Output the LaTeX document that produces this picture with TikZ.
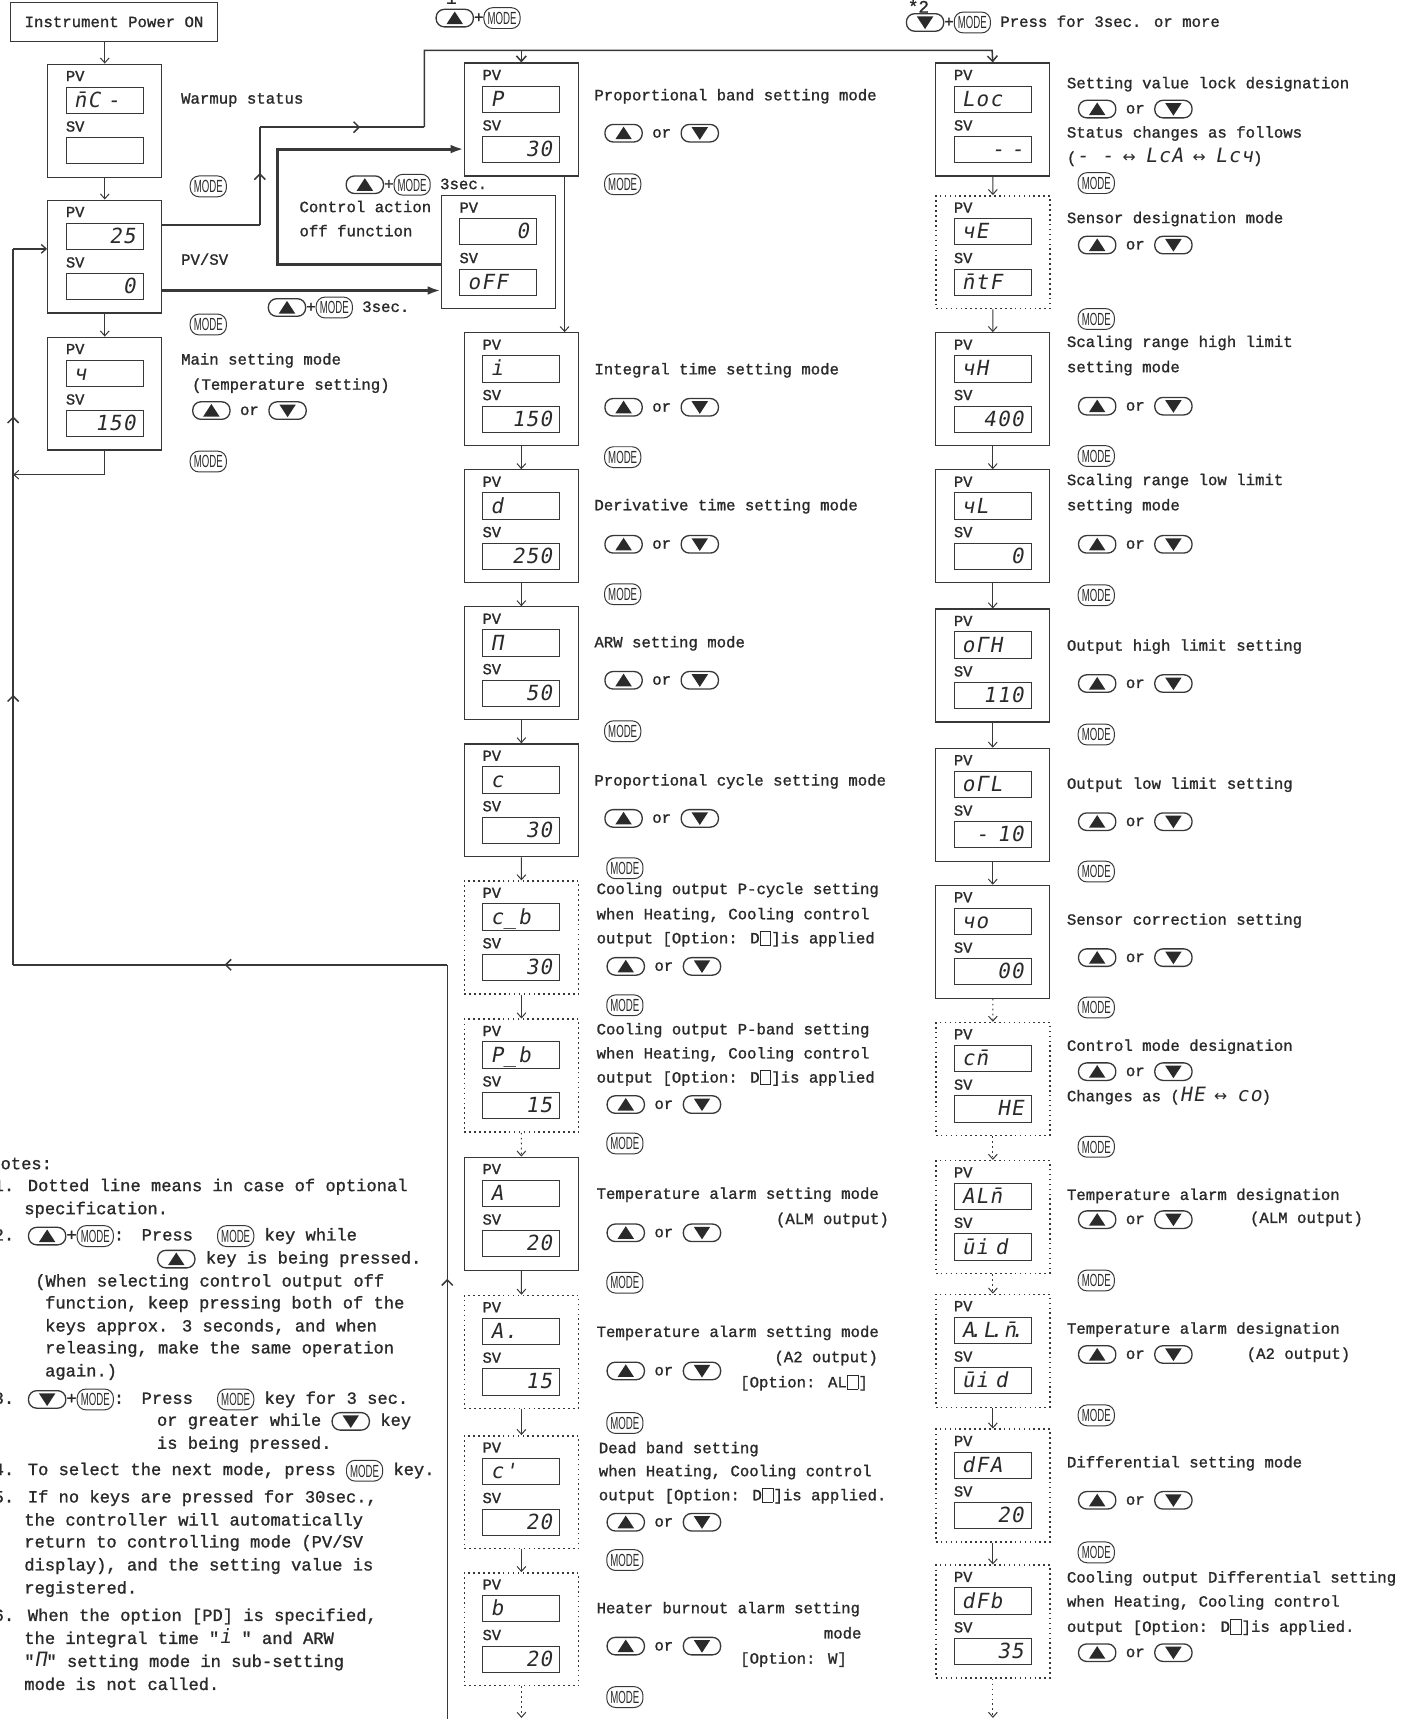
\documentclass[tikz,border=0pt]{standalone}
\usepackage{fontspec}
\setmainfont{Liberation Mono}[FakeBold=1.2]
\newfontfamily\qf{Liberation Mono}[Ligatures=TeXOff,FakeBold=1.2]
\newfontfamily\segf{DejaVu Sans Mono}[LetterSpace=6,FakeSlant=0.18]
\newfontfamily\symf{DejaVu Sans}
\newfontfamily\modef{Liberation Sans}[FakeStretch=0.55]
\usetikzlibrary{arrows.meta,decorations.markings,calc}
\definecolor{ink}{HTML}{2A2A2A}
\definecolor{lin}{HTML}{383838}
\tikzset{
  keyb/.style={draw=lin, line width=1.2pt, rounded corners=7.5pt, minimum width=34pt, minimum height=16pt, inner sep=0pt, anchor=center, text height=0pt, text depth=0pt},
  modeb/.style={draw=lin, line width=0.9pt, rounded corners=8pt, minimum width=33pt, minimum height=19pt, inner sep=0pt, anchor=center, text height=11.5pt, text depth=0pt, text=ink},
  modek/.style={modeb, font=\fontsize{16}{16}\selectfont\modef},
  tx/.style={font=\fontsize{14.3}{17}\selectfont, text=ink, inner sep=0pt, anchor=west, text height=10pt, text depth=3pt},
  nt/.style={tx, font=\fontsize{15.6}{18}\selectfont},
  pbox/.style={draw=lin, line width=1.1pt, minimum width=104pt, minimum height=103pt, inner sep=0pt, anchor=north west},
  opt/.style={dash pattern=on 1.5pt off 3pt, line width=1.3pt},
  plbl/.style={font=\fontsize{14}{14}\selectfont, text=ink, inner sep=0pt, anchor=west, text height=10pt, text depth=0pt},
  disp/.style={draw=lin, line width=0.9pt, anchor=north west, minimum width=70pt, minimum height=24pt, inner xsep=7pt, inner ysep=0pt, text width=56pt, text height=13pt, text depth=0pt, font=\fontsize{19}{19}\selectfont\segf, text=ink},
  ar/.style={draw=lin, line width=0.9pt, -{Straight Barb[length=4.5pt,width=8pt]}},
  lnk/.style={draw=lin, line width=1.4pt},
  thk/.style={draw=lin, line width=2.6pt, -{Latex[length=12pt,width=8pt]}},
  mid/.style={postaction={decorate, decoration={markings, mark=at position #1 with {\arrow{Straight Barb[length=5pt,width=10pt]}}}}},
}
\newcommand\UP{\tikz[baseline=-4pt]{\node[keyb](kk){};\fill[ink] (-7.5pt,-5.5pt) -- (7.5pt,-5.5pt) -- (0pt,6pt) -- cycle;}}
\newcommand\DN{\tikz[baseline=-4pt]{\node[keyb](kk){};\fill[ink] (-7.5pt,5.5pt) -- (7.5pt,5.5pt) -- (0pt,-6pt) -- cycle;}}
\newcommand\MODE{\tikz[baseline=-4pt]\node[modeb](kk){\fontsize{16}{16}\selectfont\modef MODE};}
\newcommand\UD{\UP\ or \DN}
\newcommand\dq{{\qf "}}
\newcommand\sq{\raisebox{-1.5pt}{\setlength\fboxsep{0pt}\setlength\fboxrule{0.8pt}\fbox{\rule{0pt}{12pt}\hspace{9pt}}}}
\newcommand\sg[1]{{\fontsize{18}{18}\selectfont\segf #1}}
\newcommand\panel[6]{%
  \node[pbox,#6] (#1) at (#2,#3) {};
  \node[plbl] (#1a) at (#2+17,#3+11) {PV};
  \node[disp] (#1p) at (#2+17,#3+21) {#4};
  \node[plbl] (#1b) at (#2+17,#3+57) {SV};
  \node[disp] (#1s) at (#2+17,#3+67) {#5};
}
\begin{document}
\begin{tikzpicture}[x=1pt,y=-1pt]
\useasboundingbox[fill=white] (0,0) rectangle (1289,1568);

% ---------- left column
\node[draw=lin,line width=1pt,minimum width=189pt,minimum height=35pt,inner sep=0pt,anchor=north west,font=\fontsize{14.3}{17}\selectfont,text=ink] (pow) at (9,2) {Instrument Power ON};
\panel{warm}{43}{58}{n̄C -}{}{}
\panel{pvsv}{43}{182}{\hfill 25}{\hfill 0}{}
\panel{main}{43}{307}{ч}{\hfill 150}{}
\draw[ar] (warm.north |- pow.south) -- (warm.north);
\draw[ar] (warm.south) -- (pvsv.north);
\draw[ar] (pvsv.south) -- (main.north);

\node[tx] (l1) at (165,91) {Warmup status};
\node[modek] (l2) at (190,170) {MODE};
\node[tx] (l3) at (165,238) {PV/SV};
\node[modek] (l4) at (190,296) {MODE};
\node[tx] (l5) at (165,329) {Main setting mode};
\node[tx] (l6) at (175,352) {(Temperature setting)};
\node[tx] (l7) at (175,375) {\UD};
\node[modek] (l8) at (190,421) {MODE};

% return loop
\coordinate (rA) at (12,433);
\coordinate (lb) at (12,880);
\coordinate (lt) at (12,227);
\coordinate (rb) at (408,880);
\coordinate (bt) at (408,1572);
\draw[ar] (main.south) |- (rA);
\draw[lnk, mid=0.586] (bt) -- (rb);
\draw[lnk, mid=0.513] (rb) -- (lb);
\draw[lnk, mid=0.377, mid=0.766] (lb) -- (lt);
\draw[ar, line width=1.2pt] (lt) -- (pvsv.west |- lt);

% ---------- middle column
\panel{P}{423}{57}{P}{\hfill 30}{}
\panel{off}{402}{178}{\hfill 0}{oFF}{}
\panel{I}{423}{303}{i}{\hfill 150}{}
\panel{D}{423}{428}{d}{\hfill 250}{}
\panel{ARW}{423}{553}{Π}{\hfill 50}{}
\panel{C}{423}{678}{c}{\hfill 30}{}
\panel{CB}{423}{803}{c\_b}{\hfill 30}{opt}
\panel{PB}{423}{929}{P\_b}{\hfill 15}{opt}
\panel{A}{423}{1055}{A}{\hfill 20}{}
\panel{AA}{423}{1181}{A.}{\hfill 15}{opt}
\panel{DB}{423}{1309}{c'}{\hfill 20}{opt}
\panel{B}{423}{1434}{b}{\hfill 20}{opt}

% ---------- right column
\panel{Loc}{853}{57}{Loc}{\hfill - -\hspace{6pt}}{}
\panel{SE}{853}{178}{чE}{n̄tF}{opt}
\panel{SH}{853}{303}{чH}{\hfill 400}{}
\panel{SL}{853}{428}{чL}{\hfill 0}{}
\panel{OH}{853}{555}{oΓH}{\hfill 110}{}
\panel{OL}{853}{682}{oΓL}{\hfill -\hspace{8pt}10}{}
\panel{SO}{853}{807}{чo}{\hfill 00}{}
\panel{CM}{853}{932}{cn̄}{\hfill HE}{opt}
\panel{AL}{853}{1058}{ALn̄}{ūi d}{opt}
\panel{ALB}{853}{1180}{A\kern-5pt.L\kern-5pt.n̄\kern-5pt.}{ūi d}{opt}
\panel{DFA}{853}{1303}{dFA}{\hfill 20}{opt}
\panel{DFB}{853}{1427}{dFb}{\hfill 35}{opt}

% top route
\coordinate (a1) at (237,205);
\coordinate (a2) at (237,116);
\coordinate (a3) at (387,116);
\coordinate (a4) at (387,46);
\coordinate (a5) at (905,46);
\draw[lnk] (pvsv.east |- a1) -- (a1);
\draw[lnk, mid=0.53] (a1) -- (a2);
\draw[lnk, mid=0.61] (a2) -- (a3);
\draw[lnk, -{Straight Barb[length=5pt,width=9pt]}] (a3) -- (a4) -- (a5) -- (Loc.north);
\draw[lnk, -{Straight Barb[length=5pt,width=9pt]}] (P.north |- a4) -- (P.north);

% thick arrows
\coordinate (h1) at (0,265);
\coordinate (g1) at (253,241);
\coordinate (g2) at (253,136);
\draw[thk] (pvsv.east |- h1) -- (off.west |- h1);
\draw[thk] (off.west |- g1) -- (g1) -- (g2) -- (P.west |- g2);
\coordinate (pi) at (515,0);
\draw[ar] (P.south -| pi) -- (I.north -| pi);

\node[tx] (o1) at (315,169) {\UP+\MODE\ 3sec.};
\node[tx] (o2) at (273,190) {Control action};
\node[tx] (o3) at (273,212) {off function};
\node[tx] (o4) at (244,281) {\UP+\MODE\ 3sec.};

\node[tx, font=\fontsize{16}{17}\selectfont] (s1) at (397,0) {*1};
\node[tx] (s1k) at (397,17) {\UP+\MODE};
\node[tx, font=\fontsize{16}{17}\selectfont] (s2) at (828,8) {*2};
\node[tx] (s2k) at (826,21) {\DN+\MODE\ Press for 3sec. or more};

\draw[ar] (I.south) -- (D.north);
\draw[ar] (D.south) -- (ARW.north);
\draw[ar] (ARW.south) -- (C.north);
\draw[ar] (C.south) -- (CB.north);
\draw[ar] (CB.south) -- (PB.north);
\draw[ar, opt, line width=0.9pt] (PB.south) -- (A.north);
\draw[ar] (A.south) -- (AA.north);
\draw[ar] (AA.south) -- (DB.north);
\draw[ar] (DB.south) -- (B.north);
\coordinate (bb) at (0,1567);
\draw[ar, opt, line width=0.9pt] (B.south) -- (B.south |- bb);

\node[tx] (m1) at (542,88) {Proportional band setting mode};
\node[tx] (m2) at (551,122) {\UD};
\node[modek] (m3) at (568,168) {MODE};
\node[tx] (m4) at (542,338) {Integral time setting mode};
\node[tx] (m5) at (551,372) {\UD};
\node[modek] (m6) at (568,417) {MODE};
\node[tx] (m7) at (542,462) {Derivative time setting mode};
\node[tx] (m8) at (551,497) {\UD};
\node[modek] (m9) at (568,542) {MODE};
\node[tx] (m10) at (542,587) {ARW setting mode};
\node[tx] (m11) at (551,621) {\UD};
\node[modek] (m12) at (568,667) {MODE};
\node[tx] (m13) at (542,713) {Proportional cycle setting mode};
\node[tx] (m14) at (551,747) {\UD};
\node[modek] (m15) at (570,792) {MODE};
\node[tx] (m16) at (544,812) {Cooling output P-cycle setting};
\node[tx] (m17) at (544,835) {when Heating, Cooling control};
\node[tx] (m18) at (544,857) {output [Option: D\sq]is applied};
\node[tx] (m19) at (553,882) {\UD};
\node[modek] (m20) at (570,917) {MODE};
\node[tx] (m21) at (544,940) {Cooling output P-band setting};
\node[tx] (m22) at (544,962) {when Heating, Cooling control};
\node[tx] (m23) at (544,984) {output [Option: D\sq]is applied};
\node[tx] (m24) at (553,1008) {\UD};
\node[modek] (m25) at (570,1043) {MODE};
\node[tx] (m26) at (544,1090) {Temperature alarm setting mode};
\node[tx,anchor=east] (m27) at (811,1113) {(ALM output)};
\node[tx] (m28) at (553,1125) {\UD};
\node[modek] (m29) at (570,1170) {MODE};
\node[tx] (m30) at (544,1216) {Temperature alarm setting mode};
\node[tx,anchor=east] (m31) at (801,1239) {(A2 output)};
\node[tx] (m32) at (553,1251) {\UD};
\node[tx] (m33) at (675,1262) {[Option: AL\sq]};
\node[modek] (m34) at (570,1298) {MODE};
\node[tx] (m35) at (546,1322) {Dead band setting};
\node[tx] (m36) at (546,1343) {when Heating, Cooling control};
\node[tx] (m37) at (546,1365) {output [Option: D\sq]is applied.};
\node[tx] (m38) at (553,1389) {\UD};
\node[modek] (m39) at (570,1423) {MODE};
\node[tx] (m40) at (544,1468) {Heater burnout alarm setting};
\node[tx,anchor=east] (m41) at (786,1491) {mode};
\node[tx] (m42) at (553,1502) {\UD};
\node[tx] (m43) at (675,1514) {[Option: W]};
\node[modek] (m44) at (570,1548) {MODE};

\draw[ar] (Loc.south) -- (SE.north);
\draw[ar] (SE.south) -- (SH.north);
\draw[ar] (SH.south) -- (SL.north);
\draw[ar] (SL.south) -- (OH.north);
\draw[ar] (OH.south) -- (OL.north);
\draw[ar] (OL.south) -- (SO.north);
\draw[ar, opt, line width=0.9pt] (SO.south) -- (CM.north);
\draw[ar, opt, line width=0.9pt] (CM.south) -- (AL.north);
\draw[ar, opt, line width=0.9pt] (AL.south) -- (ALB.north);
\draw[ar] (ALB.south) -- (DFA.north);
\draw[ar] (DFA.south) -- (DFB.north);
\draw[ar, opt, line width=0.9pt] (DFB.south) -- (DFB.south |- bb);

\node[tx] (r1) at (973,77) {Setting value lock designation};
\node[tx] (r2) at (983,100) {\UD};
\node[tx] (r3) at (973,122) {Status changes as follows};
\node[tx] (r4) at (973,145) {(\sg{- -} {\symf ↔} \sg{LcA} {\symf ↔} \sg{Lcч})};
\node[modek] (r5) at (1000,167) {MODE};
\node[tx] (r6) at (973,200) {Sensor designation mode};
\node[tx] (r7) at (983,224) {\UD};
\node[modek] (r8) at (1000,291) {MODE};
\node[tx] (r9) at (973,313) {Scaling range high limit};
\node[tx] (r10) at (973,336) {setting mode};
\node[tx] (r11) at (983,371) {\UD};
\node[modek] (r12) at (1000,416) {MODE};
\node[tx] (r13) at (973,439) {Scaling range low limit};
\node[tx] (r14) at (973,462) {setting mode};
\node[tx] (r15) at (983,497) {\UD};
\node[modek] (r16) at (1000,543) {MODE};
\node[tx] (r17) at (973,590) {Output high limit setting};
\node[tx] (r18) at (983,624) {\UD};
\node[modek] (r19) at (1000,670) {MODE};
\node[tx] (r20) at (973,716) {Output low limit setting};
\node[tx] (r21) at (983,750) {\UD};
\node[modek] (r22) at (1000,795) {MODE};
\node[tx] (r23) at (973,840) {Sensor correction setting};
\node[tx] (r24) at (983,874) {\UD};
\node[modek] (r25) at (1000,919) {MODE};
\node[tx] (r26) at (973,955) {Control mode designation};
\node[tx] (r27) at (983,978) {\UD};
\node[tx] (r28) at (973,1001) {Changes as (\sg{HE} {\symf ↔} \sg{co})};
\node[modek] (r29) at (1000,1046) {MODE};
\node[tx] (r30) at (973,1091) {Temperature alarm designation};
\node[tx] (r31) at (983,1113) {\UD};
\node[tx] (r32) at (1140,1112) {(ALM output)};
\node[modek] (r33) at (1000,1168) {MODE};
\node[tx] (r34) at (973,1213) {Temperature alarm designation};
\node[tx] (r35) at (983,1236) {\UD};
\node[tx] (r36) at (1137,1236) {(A2 output)};
\node[modek] (r37) at (1000,1291) {MODE};
\node[tx] (r38) at (973,1335) {Differential setting mode};
\node[tx] (r39) at (983,1369) {\UD};
\node[modek] (r40) at (1000,1416) {MODE};
\node[tx] (r41) at (973,1440) {Cooling output Differential setting};
\node[tx] (r42) at (973,1462) {when Heating, Cooling control};
\node[tx] (r43) at (973,1485) {output [Option: D\sq]is applied.};
\node[tx] (r44) at (983,1508) {\UD};

% ---------- notes
\node[nt] (n0) at (-9,1063) {Notes:};
\node[nt] (n1) at (-6,1083) {1. Dotted line means in case of optional};
\node[nt] (n2) at (22,1104) {specification.};
\node[nt] (n3) at (-6,1128) {2. \UP+\MODE:\hspace{16pt}Press\hspace{22pt}\MODE\ key while};
\node[nt] (n4) at (143,1149) {\UP\ key is being pressed.};
\node[nt] (n5) at (32,1170) {(When selecting control output off};
\node[nt] (n6) at (41,1190) {function, keep pressing both of the};
\node[nt] (n7) at (41,1211) {keys approx. 3 seconds, and when};
\node[nt] (n8) at (41,1231) {releasing, make the same operation};
\node[nt] (n9) at (41,1252) {again.)};
\node[nt] (n10) at (-6,1277) {3. \DN+\MODE:\hspace{16pt}Press\hspace{22pt}\MODE\ key for 3 sec.};
\node[nt] (n11) at (143,1297) {or greater while \DN\ key};
\node[nt] (n12) at (143,1318) {is being pressed.};
\node[nt] (n13) at (-6,1342) {4. To select the next mode, press \MODE\ key.};
\node[nt] (n14) at (-6,1367) {5. If no keys are pressed for 30sec.,};
\node[nt] (n15) at (22,1388) {the controller will automatically};
\node[nt] (n16) at (22,1408) {return to controlling mode (PV/SV};
\node[nt] (n17) at (22,1429) {display), and the setting value is};
\node[nt] (n18) at (22,1450) {registered.};
\node[nt] (n19) at (-6,1475) {6. When the option [PD] is specified,};
\node[nt] (n20) at (22,1496) {the integral time \dq\sg{i} \dq\ and ARW};
\node[nt] (n21) at (22,1517) {\dq\sg{Π}\dq\ setting mode in sub-setting};
\node[nt] (n22) at (22,1538) {mode is not called.};
\end{tikzpicture}
\end{document}
